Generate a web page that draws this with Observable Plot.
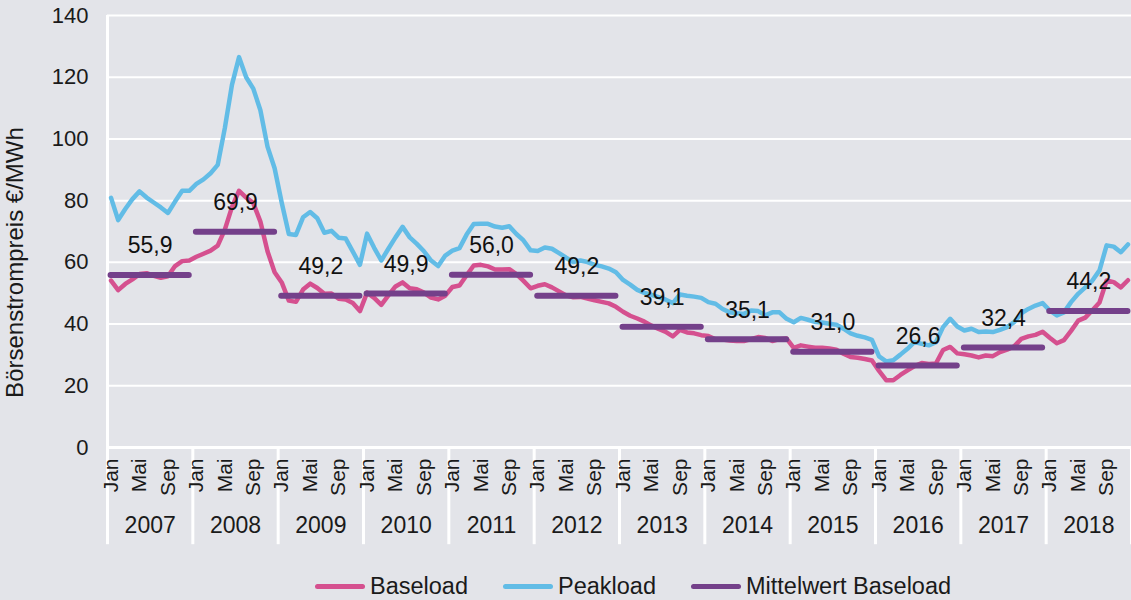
<!DOCTYPE html>
<html>
<head>
<meta charset="utf-8">
<script src="https://cdn.jsdelivr.net/npm/d3@7"></script>
<script src="https://cdn.jsdelivr.net/npm/@observablehq/plot@0.6"></script>
<style>
  html, body { margin: 0; padding: 0; background: #e3e4e9; }
  #wrap { width: 1131px; height: 600px; position: relative; overflow: hidden; background: #e3e4e9; font-family: "Liberation Sans", Arial, sans-serif; color: #1a1a1a; }
  #legend { position: absolute; left: 315px; top: 573px; display: flex; align-items: center; font-size: 23.5px; }
  .sw { width: 50px; height: 5px; border-radius: 3px; margin-right: 5px; }
  .item { display: flex; align-items: center; margin-right: 35px; }
</style>
</head>
<body>
<div id="wrap"><div id="chart"></div><div id="legend"></div></div>
<script>
const months = ["Jan","Feb","Mär","Apr","Mai","Jun","Jul","Aug","Sep","Okt","Nov","Dez"];
const years = [2007, 2008, 2009, 2010, 2011, 2012, 2013, 2014, 2015, 2016, 2017, 2018];

const baseload = [
  54.1, 51.0, 53.0, 54.5, 56.2, 56.5, 55.6, 55.0, 55.5, 58.8, 60.4, 60.6,
  61.8, 62.8, 63.8, 65.4, 70.6, 77.9, 83.2, 81.0, 79.2, 73.2, 63.6, 56.8,
  53.5, 47.6, 47.2, 51.2, 53.1, 51.7, 49.8, 49.9, 48.2, 48.0, 46.8, 44.2,
  50.2, 48.5, 46.2, 49.3, 52.2, 53.5, 51.6, 51.3, 50.2, 48.6, 48.0, 49.2,
  52.0, 52.5, 55.8, 59.0, 59.2, 58.7, 57.7, 57.7, 57.8, 56.2, 54.0, 51.6,
  52.4, 52.9, 51.9, 50.6, 49.3, 48.7, 48.8, 48.3, 47.7, 47.2, 46.7, 45.6,
  44.0, 42.7, 41.8, 40.8, 39.5, 38.4, 37.5, 36.0, 38.1, 37.3, 37.0, 36.4,
  36.1, 35.1, 35.0, 34.7, 34.5, 34.5, 35.1, 35.8, 35.5, 34.5, 35.1, 35.3,
  32.3, 33.1, 32.7, 32.3, 32.3, 32.1, 31.7, 30.4, 29.3, 29.1, 28.7, 28.2,
  24.8, 21.8, 21.8, 23.5, 25.0, 26.4, 27.4, 27.1, 27.2, 31.6, 32.6, 30.5,
  30.2, 29.8, 29.2, 29.8, 29.6, 30.9, 31.7, 32.8, 35.2, 36.0, 36.5, 37.5,
  35.6, 33.8, 34.8, 37.8, 41.1, 42.1, 44.5, 47.0, 54.1, 53.6, 51.9, 54.2
];

const peakload = [
  80.9, 73.7, 77.3, 80.5, 83.0, 81.0, 79.4, 77.8, 76.0, 79.7, 83.2, 83.2,
  85.4, 86.9, 88.9, 91.6, 103.5, 117.5, 126.5, 120.0, 116.3, 109.3, 97.5, 90.5,
  79.3, 69.2, 68.9, 74.6, 76.3, 74.3, 69.6, 70.2, 68.0, 67.7, 63.5, 59.2,
  69.3, 64.7, 60.6, 64.4, 68.1, 71.5, 68.1, 66.0, 63.6, 60.6, 58.8, 62.2,
  63.8, 64.6, 69.0, 72.4, 72.5, 72.5, 71.6, 71.2, 71.7, 69.2, 67.1, 63.9,
  63.7, 64.8, 64.4, 63.0, 61.5, 60.1, 60.6, 60.1, 59.2, 58.7, 58.0, 56.8,
  54.3, 52.8, 51.1, 50.1, 49.5, 48.7, 47.9, 46.8, 49.6, 49.2, 48.9, 48.5,
  47.1, 46.6, 44.9, 43.8, 43.5, 43.3, 44.4, 44.2, 42.8, 43.8, 43.8, 41.7,
  40.6, 42.0, 41.4, 40.7, 40.5, 40.1, 39.8, 38.5, 37.0, 36.2, 35.7, 34.9,
  29.5, 27.9, 28.3, 30.1, 32.0, 34.2, 33.6, 33.1, 34.1, 39.0, 41.7, 39.2,
  37.9, 38.5, 37.4, 37.6, 37.4, 38.1, 39.0, 40.6, 43.5, 44.9, 46.0, 46.8,
  44.4, 42.8, 43.8, 47.1, 49.8, 51.9, 54.1, 57.4, 65.5, 65.1, 63.3, 65.8
];

const meanBaseload = [55.9, 69.9, 49.2, 49.9, 56.0, 49.2, 39.1, 35.1, 31.0, 26.6, 32.4, 44.2];
const yTicks = [0, 20, 40, 60, 80, 100, 120, 140];

const seriesNames = ["Baseload", "Peakload", "Mittelwert Baseload"];
const colors = ["#d5508f", "#62bce6", "#74408a"];

const rows = baseload.map((b, i) => ({
  i, year: years[Math.floor(i / 12)], month: months[i % 12], base: b, peak: peakload[i]
}));
const meanRows = meanBaseload.map((m, k) => ({
  mean: m, start: k * 12, end: k * 12 + 11, center: k * 12 + 5.5, year: years[k]
}));
const fmt = v => d3.format(".1f")(v).replace(".", ",");
const FONT = '"Liberation Sans", Arial, sans-serif';

const chart = Plot.plot({
  width: 1131,
  height: 560,
  marginLeft: 107,
  marginRight: 0,
  marginTop: 15,
  marginBottom: 113,
  style: { background: "transparent", fontFamily: FONT, fontSize: "21px", color: "#1a1a1a", overflow: "visible" },
  x: { domain: [-0.5, 143.5], axis: null },
  y: { domain: [0, 140], axis: null },
  marks: [
    Plot.gridY({ ticks: yTicks.slice(1), stroke: "#ffffff", strokeOpacity: 1, strokeWidth: 2 }),
    Plot.ruleX(meanRows.map(d => d.start - 0.5).concat([143.5]), { y1: 0, y2: -31.5, stroke: "#ffffff", strokeWidth: 3 }),
    Plot.ruleX([-0.5], { stroke: "#ffffff", strokeWidth: 3 }),
    Plot.ruleY([0], { stroke: "#ffffff", strokeWidth: 3 }),
    Plot.axisY({ ticks: yTicks, tickSize: 0, tickPadding: 19, fontSize: 22, fill: "#1a1a1a" }),
    Plot.axisX({ ticks: d3.range(0, 144, 4), tickFormat: i => months[i % 12], tickRotate: -90, tickSize: 0, tickPadding: 11, fontSize: 21, fill: "#1a1a1a" }),
    Plot.axisX({ ticks: meanRows.map(d => d.center), tickFormat: d => String(years[Math.round((d - 5.5) / 12)]), tickSize: 0, tickPadding: 69, fontSize: 23, fill: "#1a1a1a" }),
    Plot.text(["Börsenstrompreis €/MWh"], { frameAnchor: "left", textAnchor: "middle", rotate: -90, dx: -92, dy: 31, fontSize: 24, fill: "#1a1a1a" }),
    Plot.line(rows, { x: "i", y: "base", stroke: colors[0], strokeWidth: 4.5, strokeLinejoin: "round", strokeLinecap: "round" }),
    Plot.line(rows, { x: "i", y: "peak", stroke: colors[1], strokeWidth: 4.5, strokeLinejoin: "round", strokeLinecap: "round" }),
    Plot.ruleY(meanRows, { y: "mean", x1: "start", x2: "end", stroke: colors[2], strokeWidth: 6, strokeLinecap: "round" }),
    Plot.text(meanRows, { x: "center", y: "mean", text: d => fmt(d.mean), dy: -29, fontSize: 23, fill: "#111111" })
  ]
});
document.getElementById("chart").appendChild(chart);

const legend = document.getElementById("legend");
seriesNames.forEach((name, k) => {
  const item = document.createElement("div");
  item.className = "item";
  const sw = document.createElement("div");
  sw.className = "sw";
  sw.style.background = colors[k];
  const label = document.createElement("span");
  label.textContent = name;
  item.appendChild(sw);
  item.appendChild(label);
  legend.appendChild(item);
});
</script>
</body>
</html>
